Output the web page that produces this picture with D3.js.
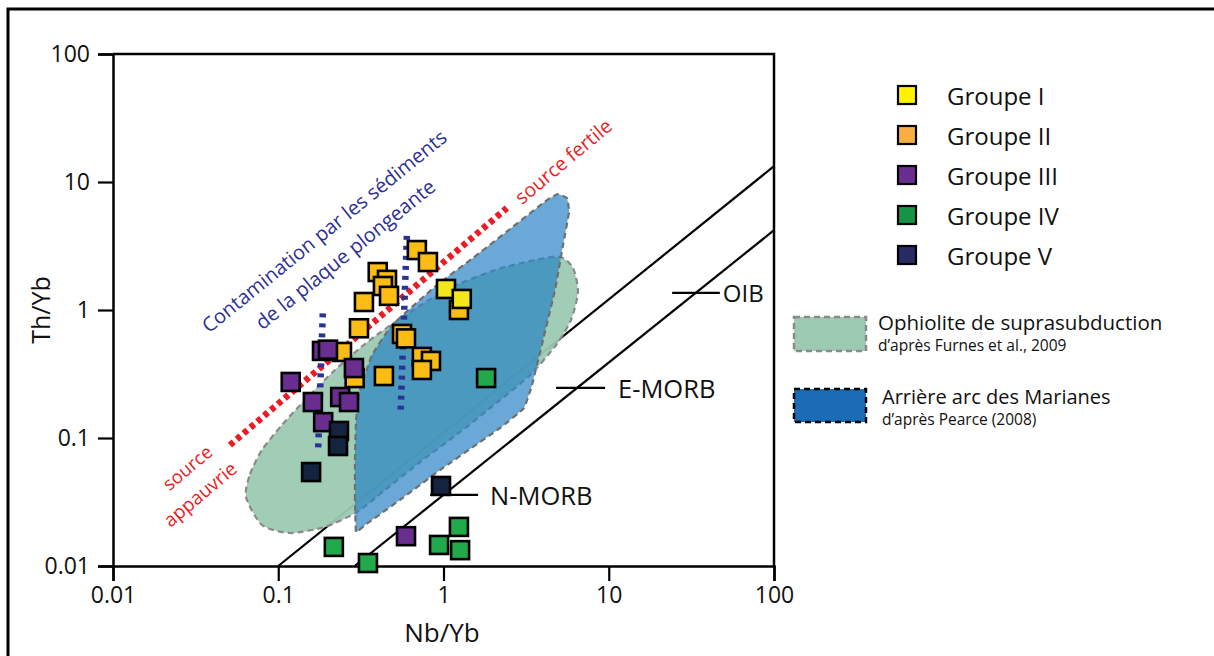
<!DOCTYPE html>
<html><head><meta charset="utf-8">
<script src="https://cdn.jsdelivr.net/npm/d3@7"></script>
<style>body{margin:0;background:#fff} text{font-family:"Open Sans",sans-serif}</style>
</head><body><svg id="c" width="1214" height="656"></svg>
<script>
// ---------- data ----------
const tickValues = [0.01, 0.1, 1, 10, 100];
const tickLabels = ["0.01", "0.1", "1", "10", "100"];
const groupNames = ["Groupe I", "Groupe II", "Groupe III", "Groupe IV", "Groupe V"];
const groupFill = ["#f4e61c", "#fbbd14", "#6a2e90", "#21a94b", "#14233f"];
const legendFill = ["#fff200", "#f9ae44", "#6a2e91", "#139447", "#272a63"];
// [Nb/Yb, Th/Yb]
const groupII = [[0.69,2.94],[0.805,2.37],[0.40,1.98],[0.455,1.72],[0.43,1.54],[0.468,1.29],[0.33,1.155],
  [0.308,0.72],[0.561,0.65],[0.593,0.60],[0.243,0.47],[0.74,0.43],[0.84,0.40],[0.74,0.34],[0.436,0.305],[0.29,0.294],
  [1.24,1.0]];
const groupI = [[1.035,1.46],[1.29,1.22]];
const groupIV = [[0.217,0.0141],[0.349,0.01055],[0.94,0.0146],[1.24,0.0202],[1.26,0.0133],[1.81,0.294]];
const groupIII = [[0.119,0.274],[0.184,0.479],[0.2,0.49],[0.287,0.352],[0.162,0.191],[0.237,0.209],[0.268,0.191],[0.187,0.133],[0.593,0.0171]];
const groupV = [[0.233,0.1135],[0.23,0.0866],[0.158,0.0542],[0.966,0.0422]];
const groupData = [groupI, groupII, groupIII, groupIV, groupV];
const drawOrder = [1, 0, 3, 2, 4];

// reference lines (MORB-OIB array)
const upperLine = [[0.1,0.01],[100,13.3]];
const lowerLine = [[0.29,0.01],[100,4.2]];
const refLabels = ["OIB", "E-MORB", "N-MORB"];
const refSegs = [[[24.2,1.36],[47,1.36]], [[4.8,0.246],[9.5,0.246]], [[0.83,0.0359],[1.62,0.0359]]];
// fields (outline vertices)
const ssField = [[0.0638,0.0346],[0.0675,0.0523],[0.0797,0.0806],[0.1054,0.1264],[0.1452,0.198],[0.2204,0.340],
  [0.359,0.583],[0.627,0.964],[1.095,1.485],[2.05,2.05],[3.58,2.46],[5.07,2.60],[6.08,2.13],[6.51,1.383],[5.91,0.835],
  [4.80,0.533],[3.34,0.310],[2.20,0.198],[1.26,0.1114],[0.721,0.0649],[0.443,0.0393],[0.300,0.0264],[0.192,0.0202],
  [0.1178,0.0181],[0.0797,0.0209]];
const baField = [[0.2955,0.01844],[0.2913,0.0328],[0.2913,0.0673],[0.2955,0.1383],[0.3124,0.237],[0.3693,0.445],
  [0.488,0.763],[0.913,1.568],[1.508,2.55],[2.526,4.29],[4.23,7.23],[4.93,8.06],[5.59,7.50],[5.75,5.83],[5.29,3.22],
  [4.73,1.434],[4.00,0.583],[3.43,0.259],[3.07,0.1715],[2.20,0.1197],[0.952,0.0562],[0.545,0.0328],[0.335,0.0209]];
// vectors
const redVector = [[0.051,0.088],[2.42,6.27]];
const blueVectors = [[[0.186,0.94],[0.174,0.076]], [[0.60,3.8],[0.55,0.157]]];

// ---------- chart ----------
const svg = d3.select("#c");
svg.append("rect").attr("x",8).attr("y",9).attr("width",1230).attr("height",680)
  .attr("fill","none").attr("stroke","#000").attr("stroke-width",3);

const x = d3.scaleLog().domain([0.01,100]).range([113,774]);
const y = d3.scaleLog().domain([0.01,100]).range([566,54]);
const line = d3.line().x(d=>x(d[0])).y(d=>y(d[1]));

// reference lines under fields
[upperLine, lowerLine].forEach(l => svg.append("path").attr("d", line(l))
  .attr("stroke","#000").attr("stroke-width",2.2).attr("fill","none"));

svg.append("path").attr("d", d3.line().x(d=>x(d[0])).y(d=>y(d[1])).curve(d3.curveCardinalClosed.tension(0.3))(ssField))
  .attr("fill","#9ccab2").attr("fill-opacity",0.95)
  .attr("stroke","#8a8a8a").attr("stroke-width",2.2).attr("stroke-dasharray","6,4");
svg.append("path").attr("d", d3.line().x(d=>x(d[0])).y(d=>y(d[1])).curve(d3.curveCardinalClosed.tension(0.75))(baField))
  .attr("fill","#2380c4").attr("fill-opacity",0.68)
  .attr("stroke","#6f6f6f").attr("stroke-width",2.2).attr("stroke-dasharray","6,4");

// ref ticks
const labelGap = [3, 13, 12];
refLabels.forEach((lab, i) => {
  const seg = refSegs[i];
  svg.append("path").attr("d", line(seg)).attr("stroke","#000").attr("stroke-width",2.2);
  svg.append("text").attr("x", x(seg[1][0]) + labelGap[i]).attr("y", y(seg[1][1]))
    .attr("dominant-baseline","central").attr("font-size", i === 0 ? 24 : 25.5).attr("fill","#111").text(lab);
});

// vectors
svg.append("path").attr("d", line(redVector)).attr("stroke","#ed1c24").attr("stroke-width",6.5)
  .attr("stroke-dasharray","5,4").attr("fill","none");
blueVectors.forEach(v => svg.append("path").attr("d", line(v)).attr("stroke","#2b3495")
  .attr("stroke-width",6.5).attr("stroke-dasharray","4,6").attr("fill","none"));

// axes
const fmt = d => tickLabels[tickValues.indexOf(d)];
const xAxis = svg.append("g").attr("transform","translate(0,566)")
  .call(d3.axisBottom(x).tickValues(tickValues).tickFormat(fmt).tickSize(15).tickPadding(6));
const yAxis = svg.append("g").attr("transform","translate(113,0)")
  .call(d3.axisLeft(y).tickValues(tickValues).tickFormat(fmt).tickSize(15).tickPadding(8));
[xAxis, yAxis].forEach(a => {
  a.selectAll("path").attr("stroke","#000").attr("stroke-width",2.5);
  a.selectAll("line").attr("stroke","#000").attr("stroke-width",2.2);
  a.selectAll("text").attr("font-size",23).attr("fill","#111").attr("font-family","Open Sans");
});
svg.append("path").attr("d",`M${x(0.01)},${y(100)}H${x(100)}V${y(0.01)}`)
  .attr("fill","none").attr("stroke","#000").attr("stroke-width",2.5);

svg.append("text").attr("x",442).attr("y",642).attr("text-anchor","middle")
  .attr("font-size",26).attr("fill","#111").text("Nb/Yb");
svg.append("text").attr("transform","translate(50,310) rotate(-90)").attr("text-anchor","middle")
  .attr("font-size",25).attr("fill","#111").text("Th/Yb");

// annotations
function rtext(cx, cy, ang, size, color, s) {
  svg.append("text").attr("transform",`translate(${cx},${cy}) rotate(${ang})`)
    .attr("text-anchor","middle").attr("dominant-baseline","central")
    .attr("font-size",size).attr("fill",color).text(s);
}
rtext(324,231,-39,20,"#2e3192","Contamination par les sédiments");
rtext(345,254,-39,20,"#2e3192","de la plaque plongeante");
rtext(563,161,-40,19.5,"#ed1c24","source fertile");
rtext(187,467,-40,18.5,"#ed1c24","source");
rtext(200,494,-40,19,"#ed1c24","appauvrie");

// markers
drawOrder.forEach(gi => {
  svg.append("g").selectAll("rect").data(groupData[gi]).join("rect")
    .attr("x", d => x(d[0]) - 9).attr("y", d => y(d[1]) - 9)
    .attr("width",18).attr("height",18)
    .attr("fill", groupFill[gi]).attr("stroke","#000").attr("stroke-width",2.6);
});

// legend
const lg = svg.append("g");
groupNames.forEach((n,i) => {
  const cy = 95 + i*40;
  lg.append("rect").attr("x",898).attr("y",cy-9).attr("width",18).attr("height",18)
    .attr("fill",legendFill[i]).attr("stroke","#000").attr("stroke-width",2.2);
  lg.append("text").attr("x",947).attr("y",cy).attr("dominant-baseline","central")
    .attr("font-size",24).attr("fill","#111").text(n);
});
lg.append("rect").attr("x",794).attr("y",317).attr("width",72).attr("height",34)
  .attr("fill","#9ccab2").attr("stroke","#8a8a8a").attr("stroke-width",2.5).attr("stroke-dasharray","6,4");
lg.append("text").attr("x",878).attr("y",330).attr("font-size",20.5).attr("fill","#111").text("Ophiolite de suprasubduction");
lg.append("text").attr("x",878).attr("y",351).attr("font-size",15.5).attr("fill","#111").text("d’après Furnes et al., 2009");
lg.append("rect").attr("x",794).attr("y",389).attr("width",72).attr("height",33)
  .attr("fill","#1a6cb6").attr("stroke","#000").attr("stroke-width",2.5).attr("stroke-dasharray","6,4");
lg.append("text").attr("x",882).attr("y",404).attr("font-size",20).attr("fill","#111").text("Arrière arc des Marianes");
lg.append("text").attr("x",882).attr("y",425).attr("font-size",15.5).attr("fill","#111").text("d’après Pearce (2008)");
</script></body></html>
